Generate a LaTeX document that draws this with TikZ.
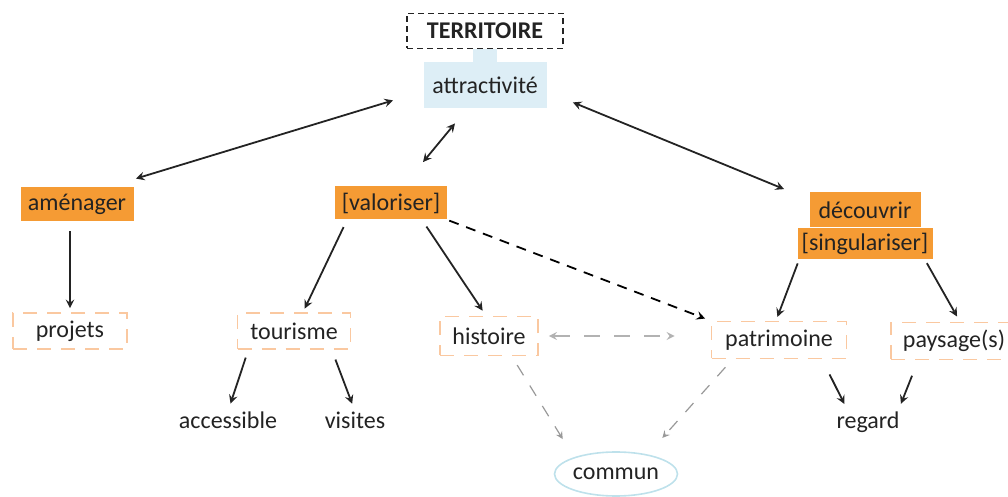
\documentclass[tikz,border=0pt]{standalone}
\usepackage{fontspec}
\setmainfont{Carlito}
\usetikzlibrary{shapes.geometric, arrows, positioning, calc}
\definecolor{actioncolor}{RGB}{245,155,52}
\definecolor{lightblue}{RGB}{221,238,246}
\definecolor{peach}{RGB}{250,200,160}
\definecolor{ellblue}{RGB}{190,225,235}
\definecolor{txtcolor}{RGB}{35,35,35}

\begin{document}
\begin{tikzpicture}[
    x=0.5pt, y=-0.5pt,
    font=\fontsize{12}{14}\selectfont, text=txtcolor,
    base/.style={rectangle, inner sep=0pt, align=center},
    action/.style={base, fill=actioncolor},
    theme/.style={base, draw=peach, line width=0.8pt, dash pattern=on 7pt off 5pt},
    plain/.style={base},
    arrow/.style={->, >=stealth, line width=0.9pt, draw=txtcolor},
    biarrow/.style={<->, >=stealth, line width=0.9pt, draw=txtcolor},
    strongdash/.style={->, >=stealth, line width=0.9pt, draw=black, dash pattern=on 5pt off 4pt},
    lightdash/.style={->, >=stealth, semithick, draw=gray!80, dash pattern=on 6pt off 6pt}
]
    \useasboundingbox (0,0) rectangle (1008,497);

    % Top
    \node[base, draw=txtcolor, densely dashed, thick, minimum width=78pt, minimum height=17.5pt,
          font=\fontsize{12}{14}\selectfont\bfseries] (territoire) at (485,31) {TERRITOIRE};
    \node[base, fill=lightblue, minimum width=61.5pt, minimum height=23pt] (attract) at (485,85) {attractivité};
    \draw[lightblue, line width=12pt] (territoire.south) -- (attract.north);

    % Actions
    \node[action, minimum width=56.5pt, minimum height=17pt] (amenager) at (77,204) {aménager};
    \node[action, minimum width=56pt, minimum height=16.5pt] (valoriser) at (391,203) {[valoriser]};
    \node[action, minimum width=55.5pt, minimum height=17.5pt] (decouvrir) at (865,210) {découvrir};
    \node[action, minimum width=67.5pt, minimum height=15.5pt, below=0pt of decouvrir] (singular) {[singulariser]};

    % Themes
    \node[theme, minimum width=57pt, minimum height=18pt] (projets) at (70,331) {projets};
    \node[theme, minimum width=56.5pt, minimum height=18pt] (tourisme) at (294,331) {tourisme};
    \node[theme, minimum width=49pt, minimum height=19.5pt] (histoire) at (489,336) {histoire};
    \node[theme, minimum width=67.5pt, minimum height=18.5pt] (patrimoine) at (779,340) {patrimoine};
    \node[theme, minimum width=63pt, minimum height=18.5pt] (paysage) at (954,341) {paysage(s)};

    % Leaves
    \node[plain] (accessible) at (228,420) {accessible};
    \node[plain] (visites) at (355,420) {visites};
    \node[plain] (regard) at (868,422) {regard};
    \node[ellipse, draw=ellblue, thick, minimum width=61.5pt, minimum height=22pt, inner sep=0pt] (commun) at (616,474) {commun};

    % Links to attractivite
    \draw[biarrow] ($(attract.south west)+(-30,-8)$) -- ($(amenager.north east)+(2,-8)$);
    \draw[biarrow] ($(attract.south)+(-30,15)$) -- ($(valoriser.north)+(32,-24)$);
    \draw[biarrow] ($(attract.south east)+(26,-6)$) -- ($(decouvrir.north west)+(-25,-3)$);

    % Tree links
    \draw[arrow, shorten <=5pt, shorten >=2pt] (amenager.south -| projets.north) -- (projets.north);
    \draw[arrow, shorten <=4pt, shorten >=2pt] ($(valoriser.south)+(-44,0)$) -- ($(tourisme.north)+(9,0)$);
    \draw[arrow, shorten <=4pt, shorten >=3pt] ($(valoriser.south)+(31,0)$) -- ($(histoire.north)+(-3,0)$);
    \draw[strongdash, shorten <=1pt, shorten >=3pt] (valoriser.south east) -- (patrimoine.north west);
    \draw[arrow, shorten <=2pt, shorten >=2pt] ($(singular.south west)+(2,0)$) -- ($(patrimoine.north)+(-3,0)$);
    \draw[arrow, shorten <=2pt, shorten >=3pt] ($(singular.south east)+(-8,0)$) -- ($(paysage.north)+(6,0)$);
    \draw[arrow, shorten <=2pt, shorten >=4pt] ($(tourisme.south)+(-47,4)$) -- (accessible.north);
    \draw[arrow, shorten <=2pt, shorten >=4pt] ($(tourisme.south)+(40,6)$) -- (visites.north);
    \draw[arrow, shorten <=4pt, shorten >=4pt] ($(patrimoine.south)+(47,8)$) -- ($(regard.north)+(-20,0)$);
    \draw[arrow, shorten <=4pt, shorten >=4pt] ($(paysage.south)+(-39,8)$) -- ($(regard.north)+(30,0)$);

    % Cross links
    \draw[<->, >=stealth, thick, draw=gray!60, dash pattern=on 8pt off 7pt,
          shorten <=5pt, shorten >=18pt] (histoire.east) -- (histoire.east -| patrimoine.west);
    \draw[lightdash, shorten <=4pt, shorten >=4pt] ($(histoire.south)+(24,2)$) -- ($(commun.north west)+(-5,-12)$);
    \draw[lightdash, shorten <=4pt, shorten >=4pt] ($(patrimoine.south west)+(20,2)$) -- ($(commun.north east)+(-3,-14)$);

\end{tikzpicture}
\end{document}
